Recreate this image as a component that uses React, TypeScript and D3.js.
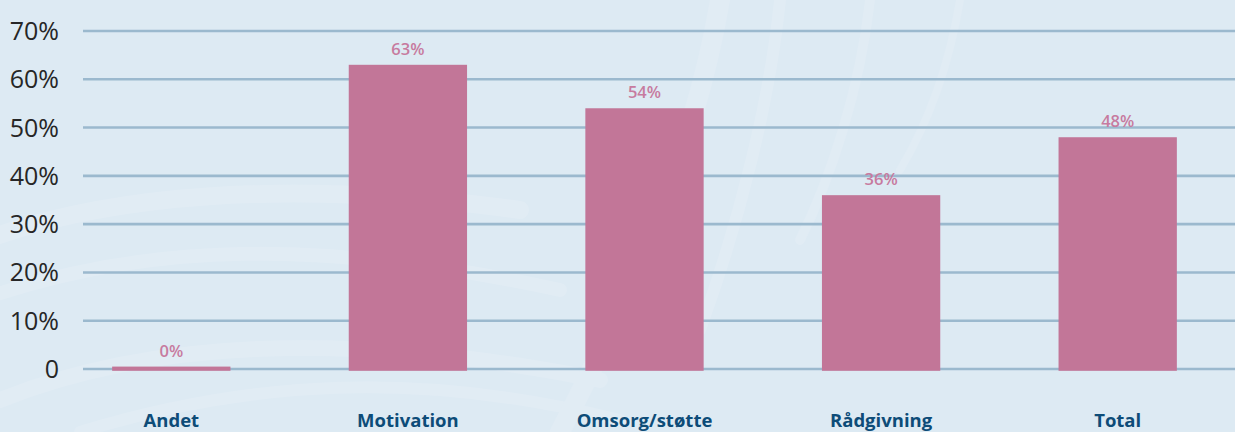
import React from "react";
import * as d3 from "d3";

const categories = ["Andet", "Motivation", "Omsorg/støtte", "Rådgivning", "Total"];
const values = [0.5, 63, 54, 36, 48];
const valueLabels = ["0%", "63%", "54%", "36%", "48%"];
const yTicks = [0, 10, 20, 30, 40, 50, 60, 70];
const yTickLabels = ["0", "10%", "20%", "30%", "40%", "50%", "60%", "70%"];

const W = 1235;
const H = 432;

export default function App() {
  const x = d3.scaleBand<string>().domain(categories).range([53, 1236]).paddingInner(0.5).paddingOuter(0.25);
  const y = d3.scaleLinear().domain([0, 70]).range([369, 31]);
  const font = "'Open Sans', 'Noto Sans', sans-serif";

  return (
    <svg width={W} height={H} style={{ position: "absolute", left: 0, top: 0 }}>
      <rect x={0} y={0} width={W} height={H} fill="#ddeaf3" />
      {/* faint watermark swirls */}
      <g fill="none" stroke="#e4eef6" strokeLinecap="round" opacity={0.6}>
        <path d="M -40 250 C 100 190, 300 180, 520 210" strokeWidth={18} />
        <path d="M -20 300 C 150 240, 330 240, 560 290" strokeWidth={14} />
        <path d="M 0 400 C 150 340, 350 330, 600 380" strokeWidth={16} />
        <path d="M 80 432 C 250 380, 420 370, 620 420" strokeWidth={12} />
        <path d="M 720 0 C 700 120, 650 260, 560 432" strokeWidth={20} />
        <path d="M 780 0 C 770 100, 740 220, 700 330" strokeWidth={12} />
        <path d="M 870 0 C 860 90, 830 180, 800 240" strokeWidth={10} />
        <path d="M 960 0 C 950 60, 930 120, 900 170" strokeWidth={8} />
      </g>
      {yTicks.map((t, i) => (
        <g key={t}>
          <line x1={83} x2={W} y1={y(t)} y2={y(t)} stroke="#9bb9ce" strokeWidth={2.6} />
          <text x={59} y={y(t) + 9} textAnchor="end" fontFamily={font} fontSize={25} fill="#262626">
            {yTickLabels[i]}
          </text>
        </g>
      ))}
      {categories.map((c, i) => {
        const bx = x(c)!;
        const bw = x.bandwidth();
        const top = y(values[i]);
        const bottom = y(0) + 1.8;
        return (
          <g key={c}>
            <rect x={bx} y={top} width={bw} height={bottom - top} fill="#c27698" />
            <text x={bx + bw / 2} y={top - 10} textAnchor="middle" fontFamily={font} fontWeight={600} fontSize={16.5} fill="#c77b9f">
              {valueLabels[i]}
            </text>
            <text x={bx + bw / 2} y={427} textAnchor="middle" fontFamily={font} fontWeight={700} fontSize={18.5} fill="#0d4c78">
              {c}
            </text>
          </g>
        );
      })}
    </svg>
  );
}
